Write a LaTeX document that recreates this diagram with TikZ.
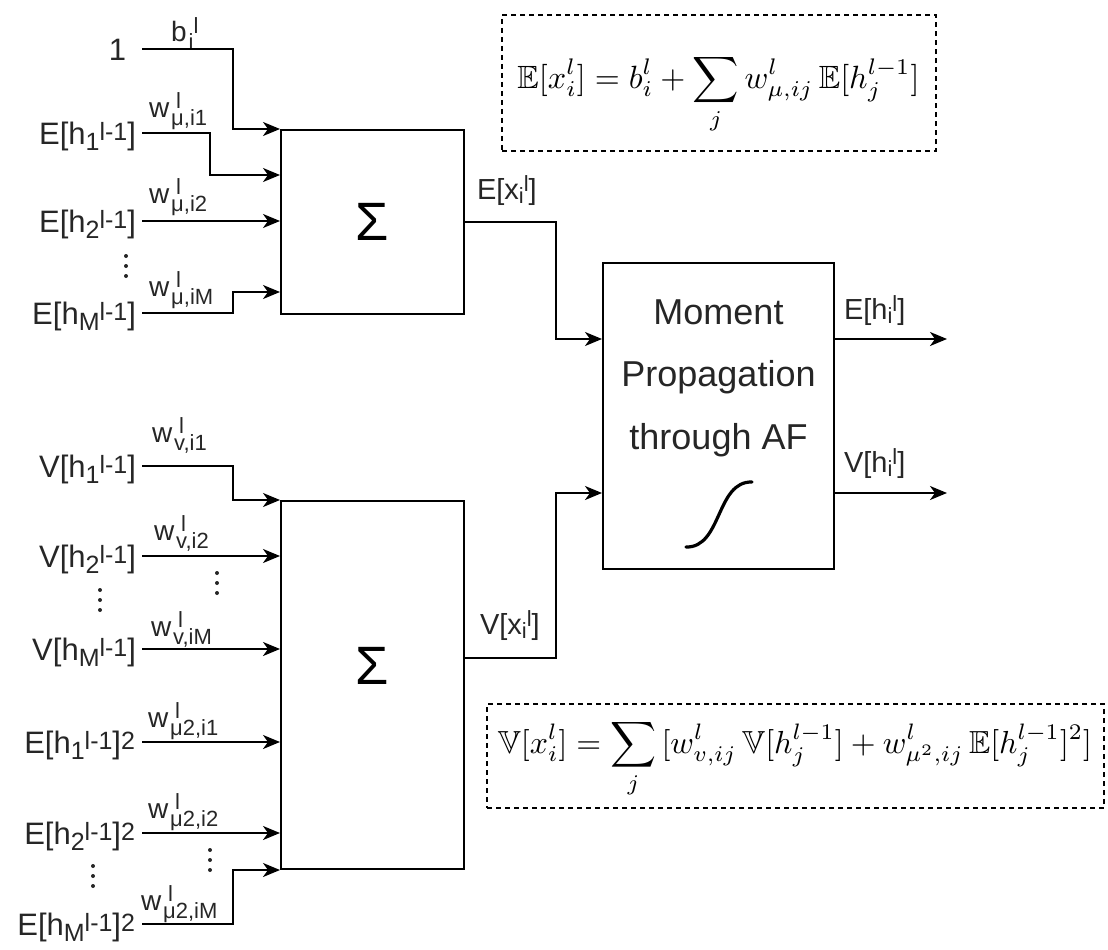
\documentclass[tikz,border=0pt]{standalone}
\usepackage{amsmath,amssymb}
\usepackage{graphicx}
\usepackage{fontspec}
\setmainfont{Liberation Sans}
\usetikzlibrary{arrows.meta}

\newcommand\mylfont{\fontsize{31}{31}\selectfont}
\newcommand\mylsfont{\fontsize{25}{25}\selectfont}
\newcommand\mywfont{\fontsize{28}{28}\selectfont}
\newcommand\mywsfont{\fontsize{22}{22}\selectfont}
\newcommand\myofont{\fontsize{29}{29}\selectfont}
\newcommand\myosfont{\fontsize{22}{22}\selectfont}
\newcommand\mysigfont{\fontsize{54}{54}\selectfont}
\newcommand\myaffont{\fontsize{36}{62.5}\selectfont}

\newcommand\mylsub[1]{\raisebox{-6pt}{\mylsfont #1}}
\newcommand\mylsup[1]{\raisebox{4pt}{\mylsfont #1}}
\newcommand\mywl[3]{#1\makebox[0pt][l]{\hspace{7pt}\raisebox{9pt}{\mywsfont #2}}\hspace{2pt}\raisebox{-8pt}{\mywsfont #3}}
\newcommand\myosub[1]{\raisebox{-4pt}{\myosfont #1}}
\newcommand\myosup[1]{\raisebox{8pt}{\myosfont #1}}

\begin{document}
\begin{tikzpicture}[x=1pt,y=-1pt,
  line width=2pt,
  box/.style={draw, line width=2pt, inner sep=0pt},
  arr/.style={-{Stealth[length=17pt,width=14pt,inset=5pt]}},
  lab/.style={anchor=east, inner sep=0pt, text height=22pt, text depth=0pt, font=\mylfont, text=black!85},
  wlab/.style={anchor=base west, inner sep=0pt, font=\mywfont, text=black!85},
  olab/.style={anchor=base west, inner sep=0pt, font=\myofont, text=black!85},
  eqbox/.style={draw, dash pattern=on 5pt off 4pt, line width=1.4pt, inner sep=0pt},
  dotc/.style={fill=black!85}
]
\useasboundingbox (0,0) rectangle (1108,950);

% boxes
\node[box, minimum width=183pt, minimum height=184pt, font=\mysigfont] (sum1) at (372.5,222) {Σ};
\node[box, minimum width=183pt, minimum height=368pt] (sum2) at (372.5,685) {};
\node[font=\mysigfont, inner sep=0pt] (sig2) at (372.5,666) {Σ};
\node[box, minimum width=231pt, minimum height=306pt] (af) at (718.5,416) {};
\node[align=center, font=\myaffont, inner sep=0pt, text=black!85] (aftext) at (718.5,378) {Moment\\Propagation\\through AF};
\draw[line width=3.2pt, line cap=round] (686,547) .. controls (722,548) and (716,481) .. (752,482);

% formula boxes
\node[eqbox, minimum width=434pt, minimum height=136pt] (eqb1) at (719,83) {};
\node[inner sep=0pt] (eq1) at (718.5,94) {\resizebox{402pt}{!}{$\displaystyle \mathbb{E}[x_i^l] = b_i^l + \sum_j w^l_{\mu,ij}\,\mathbb{E}[h_j^{l-1}]$}};
\node[eqbox, minimum width=617pt, minimum height=104pt] (eqb2) at (795.5,756) {};
\node[inner sep=0pt] (eq2) at (795,759) {\resizebox{594pt}{!}{$\displaystyle \mathbb{V}[x_i^l] = \sum_j\, [w^l_{v,ij}\,\mathbb{V}[h_j^{l-1}] + w^l_{\mu^2,ij}\,\mathbb{E}[h_j^{l-1}]^2]$}};

% left input labels
\node[lab] (one) at (127,49) {1};
\node[lab] (e1) at (137,133) {E[h\mylsub{1}\mylsup{l-1}]};
\node[lab] (e2) at (137,221) {E[h\mylsub{2}\mylsup{l-1}]};
\node[lab] (eM) at (137,313) {E[h\mylsub{M}\mylsup{l-1}]};
\node[lab] (v1) at (137,466) {V[h\mylsub{1}\mylsup{l-1}]};
\node[lab] (v2) at (137,556) {V[h\mylsub{2}\mylsup{l-1}]};
\node[lab] (vM) at (137,649) {V[h\mylsub{M}\mylsup{l-1}]};
\node[lab] (q1) at (136,742) {E[h\mylsub{1}\mylsup{l-1}]\mylsup{2}};
\node[lab] (q2) at (136,833) {E[h\mylsub{2}\mylsup{l-1}]\mylsup{2}};
\node[lab] (qM) at (136,924) {E[h\mylsub{M}\mylsup{l-1}]\mylsup{2}};

% weight labels
\node[wlab] (wb) at (170,42) {\mywl{b}{l}{i}};
\node[wlab] (w1) at (148,117) {\mywl{w}{l}{μ,i1}};
\node[wlab] (w2) at (148,203) {\mywl{w}{l}{μ,i2}};
\node[wlab] (w3) at (148,296) {\mywl{w}{l}{μ,iM}};
\node[wlab] (wv1) at (151,442) {\mywl{w}{l}{v,i1}};
\node[wlab] (wv2) at (153,540) {\mywl{w}{l}{v,i2}};
\node[wlab] (wv3) at (150,636) {\mywl{w}{l}{v,iM}};
\node[wlab] (wq1) at (147,727) {\mywl{w}{l}{μ2,i1}};
\node[wlab] (wq2) at (147,818) {\mywl{w}{l}{μ2,i2}};
\node[wlab] (wq3) at (140,910) {\mywl{w}{l}{μ2,iM}};

% vertical dots
\foreach \px/\py in {126/256, 100/590, 217/573, 93/866, 210/850}
  \foreach \k in {0,1,2} \fill[dotc] (\px,\py+\k*10) circle (2pt);

% input connectors
\draw[arr] ([xshift=15pt]one.east) -| ([xshift=-47pt]sum1.north west) -- (sum1.north west);
\draw[arr] ([xshift=5pt]e1.east) -| ([xshift=-70pt,yshift=47pt]sum1.west) -- ([yshift=47pt]sum1.west);
\draw[arr] ([xshift=5pt]e2.east) -- (e2.east -| sum1.west);
\draw[arr] ([xshift=5pt]eM.east) -| ([xshift=-47pt,yshift=-70pt]sum1.west) -- ([yshift=-70pt]sum1.west);

\draw[arr] ([xshift=5pt]v1.east) -| ([xshift=-47pt]sum2.north west) -- (sum2.north west);
\draw[arr] ([xshift=5pt]v2.east) -- (v2.east -| sum2.west);
\draw[arr] ([xshift=5pt]vM.east) -- (vM.east -| sum2.west);
\draw[arr] ([xshift=6pt]q1.east) -- (q1.east -| sum2.west);
\draw[arr] ([xshift=6pt]q2.east) -- (q2.east -| sum2.west);
\draw[arr] ([xshift=6pt]qM.east) -| ([xshift=-47pt]sum2.south west) -- (sum2.south west);

% to AF
\draw[arr] (sum1.east) -| ([xshift=-46pt,yshift=77pt]af.west) -- ([yshift=77pt]af.west);
\draw[arr] ([yshift=27pt]sum2.east) -| ([xshift=-46pt,yshift=-77pt]af.west) -- ([yshift=-77pt]af.west);
\node[olab] (ex) at (476,199) {E[x\myosub{i}\myosup{l}]};
\node[olab] (vx) at (479,634) {V[x\myosub{i}\myosup{l}]};

% outputs
\coordinate (outE) at (947,339);
\coordinate (outV) at (947,493);
\draw[arr] ([yshift=77pt]af.east) -- (outE);
\draw[arr] ([yshift=-77pt]af.east) -- (outV);
\node[olab] (eh) at (843,319) {E[h\myosub{i}\myosup{l}]};
\node[olab] (vh) at (843,472) {V[h\myosub{i}\myosup{l}]};
\end{tikzpicture}
\end{document}
